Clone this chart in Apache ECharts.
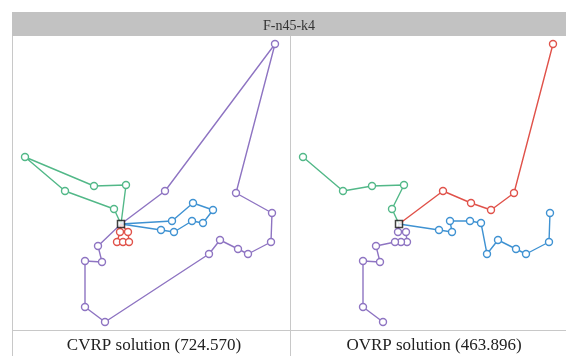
<!DOCTYPE html>
<html>
<head>
<meta charset="utf-8">
<script src="https://cdn.jsdelivr.net/npm/echarts@6/dist/echarts.min.js"></script>
<style>html,body{margin:0;padding:0;background:#fff;}#c{width:566px;height:356px;}</style>
</head>
<body>
<div id="c"></div>
<script>
// Node coordinates (instance units, y grows downward)
const depot = [109, 188];
const G = {G1:[13,121], G2:[53,155], G3:[82,150], G4:[114,149], G5:[102,173]};
const P = {P1:[153,155], P2:[263,8], P3:[224,157], P4:[260,177], P5:[259,206], P6:[236,218], P7:[226,213],
           P8:[208,204], P9:[197,218], P10:[93,286], P11:[73,271], P12:[73,225], P13:[90,226], P14:[86,210]};
const B = {B1:[160,185], B2:[181,167], B3:[201,174], B4:[191,187], B5:[180,185], B6:[162,196], B7:[149,194]};
const R = {R1:[108,196], R2:[116,196], R3:[105,206], R4:[111,206], R5:[117,206]};
const N = Object.assign({D: depot}, G, P, B, R);

// Routes (node ids)
const cvrpRoutes = [
  ['D','G4','G3','G1','G2','G5','D'],
  ['D','P1','P2','P3','P4','P5','P6','P7','P8','P9','P10','P11','P12','P13','P14','D'],
  ['D','B1','B2','B3','B4','B5','B6','B7','D'],
  ['D','R1','R3','R4','R5','R2','D']
];
const ovrpRoutes = [
  ['D','G5','G4','G3','G2','G1'],
  ['D','P1','B2','B3','P3','P2'],
  ['D','B7','B6','B1','B5','B4','P9','P8','P7','P6','P5','P4'],
  ['D','R1','R2','R5','R4','R3','P14','P13','P12','P11','P10']
];
const cvrpColors = ['#52b888', '#8e74c2', '#3f92d2', '#e0524a'];
const ovrpColors = ['#52b888', '#e0524a', '#3f92d2', '#8e74c2'];

const titleText = 'F-n45-k4';
const leftLabel = 'CVRP solution (724.570)';
const rightLabel = 'OVRP solution (463.896)';

function routeSeries(routes, colors, gi) {
  return routes.map((r, i) => ({
    type: 'line', xAxisIndex: gi, yAxisIndex: gi,
    data: r.map(id => id === 'D' ? {value: N[id], symbolSize: 0} : {value: N[id]}),
    symbol: 'circle', symbolSize: 7, showAllSymbol: true,
    lineStyle: {color: colors[i], width: 1.4},
    itemStyle: {color: '#fff', borderColor: colors[i], borderWidth: 1.4},
    emphasis: {disabled: true}, animation: false, z: 2
  }));
}

const serif = '"Liberation Serif", "DejaVu Serif", serif';
const chart = echarts.init(document.getElementById('c'));
chart.setOption({
  animation: false,
  title: [
    {text: titleText, left: 284, top: 14, textAlign: 'center',
     textStyle: {fontFamily: serif, fontSize: 14, fontWeight: 'normal', color: '#333'}},
    {text: leftLabel, left: 149, top: 332, textAlign: 'center',
     textStyle: {fontFamily: serif, fontSize: 17, fontWeight: 'normal', color: '#222'}},
    {text: rightLabel, left: 429, top: 332, textAlign: 'center',
     textStyle: {fontFamily: serif, fontSize: 17, fontWeight: 'normal', color: '#222'}}
  ],
  graphic: [
    {type: 'rect', shape: {x: 12, y: 12, width: 554, height: 24}, style: {fill: '#c2c2c2'}, z: -10},
    {type: 'line', shape: {x1: 12.5, y1: 36, x2: 12.5, y2: 356}, style: {stroke: '#c8c8c8', lineWidth: 1}},
    {type: 'line', shape: {x1: 290.5, y1: 36, x2: 290.5, y2: 356}, style: {stroke: '#c8c8c8', lineWidth: 1}},
    {type: 'line', shape: {x1: 12, y1: 330.5, x2: 566, y2: 330.5}, style: {stroke: '#c8c8c8', lineWidth: 1}}
  ],
  grid: [
    {left: 12, top: 36, width: 278, height: 294},
    {left: 290, top: 36, width: 276, height: 294}
  ],
  xAxis: [
    {type: 'value', gridIndex: 0, min: 0, max: 278, show: false},
    {type: 'value', gridIndex: 1, min: 0, max: 276, show: false}
  ],
  yAxis: [
    {type: 'value', gridIndex: 0, min: 0, max: 294, inverse: true, show: false},
    {type: 'value', gridIndex: 1, min: 0, max: 294, inverse: true, show: false}
  ],
  series: [
    ...routeSeries(cvrpRoutes, cvrpColors, 0),
    ...routeSeries(ovrpRoutes, ovrpColors, 1),
    {type: 'scatter', xAxisIndex: 0, yAxisIndex: 0, data: [depot], symbol: 'rect', symbolSize: 7,
     itemStyle: {color: '#fff', borderColor: '#111', borderWidth: 1.5}, z: 5, emphasis: {disabled: true}},
    {type: 'scatter', xAxisIndex: 1, yAxisIndex: 1, data: [depot], symbol: 'rect', symbolSize: 7,
     itemStyle: {color: '#fff', borderColor: '#111', borderWidth: 1.5}, z: 5, emphasis: {disabled: true}}
  ]
});
</script>
</body>
</html>
